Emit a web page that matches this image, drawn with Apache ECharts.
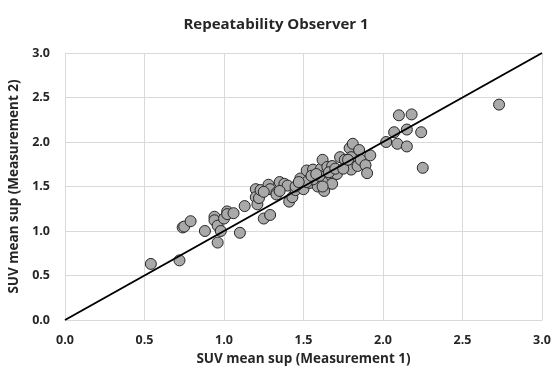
<!DOCTYPE html>
<html>
<head>
<meta charset="utf-8">
<script src="https://cdn.jsdelivr.net/npm/echarts@6/dist/echarts.min.js"></script>
<style>
  html, body { margin: 0; padding: 0; background: #fff; }
  #chart { width: 552px; height: 373px; }
</style>
</head>
<body>
<div id="chart"></div>
<script>
const measurement1 = [
  0.54, 0.72, 0.74, 0.75, 0.79, 0.88, 0.94, 0.94, 0.96, 0.96, 0.98, 1.00, 1.02, 1.02, 1.06, 1.10,
  1.13, 1.20, 1.20, 1.21, 1.22, 1.23, 1.25, 1.29, 1.28, 1.29, 1.33, 1.33, 1.35, 1.38, 1.40, 1.41,
  1.43, 1.45, 1.48, 1.50, 1.52, 1.54, 1.56, 1.57, 1.59, 1.61, 1.62, 1.63, 1.64, 1.65, 1.67, 1.68,
  1.68, 1.71, 1.73, 1.76, 1.79, 1.81, 1.80, 1.80, 1.84, 1.85, 1.86, 1.89, 1.90, 1.92, 2.02, 2.07,
  2.09, 2.10, 2.15, 2.15, 2.18, 2.24, 2.25, 2.73,
  1.56, 1.60, 1.52, 1.66, 1.70, 1.75, 1.78, 1.62, 1.45, 1.35, 1.25, 1.55, 1.47, 1.58
];
const measurement2 = [
  0.63, 0.67, 1.04, 1.05, 1.11, 1.00, 1.16, 1.12, 1.06, 0.87, 1.00, 1.14, 1.22, 1.19, 1.20, 0.98,
  1.28, 1.47, 1.38, 1.30, 1.37, 1.46, 1.14, 1.18, 1.52, 1.47, 1.43, 1.41, 1.55, 1.53, 1.51, 1.33,
  1.38, 1.46, 1.59, 1.47, 1.68, 1.54, 1.69, 1.61, 1.50, 1.70, 1.80, 1.45, 1.57, 1.72, 1.63, 1.73,
  1.53, 1.64, 1.83, 1.80, 1.93, 1.98, 1.69, 1.83, 1.73, 1.91, 1.80, 1.74, 1.65, 1.85, 2.00, 2.11,
  1.98, 2.30, 1.95, 2.14, 2.31, 2.11, 1.71, 2.42,
  1.58, 1.62, 1.55, 1.66, 1.70, 1.70, 1.80, 1.50, 1.50, 1.45, 1.44, 1.62, 1.55, 1.64
];
const identityLine = [[0, 0], [3, 3]];
const tickLabels = ['0.0', '0.5', '1.0', '1.5', '2.0', '2.5', '3.0'];

const points = measurement1.map((v, i) => [v, measurement2[i]]);

const chart = echarts.init(document.getElementById('chart'));
const font = '"Open Sans", "Noto Sans", sans-serif';

const axisCommon = {
  type: 'value',
  min: 0,
  max: 3,
  interval: 0.5,
  nameLocation: 'middle',
  nameTextStyle: { fontFamily: font, fontWeight: 'bold', fontSize: 13.5, color: '#262626' },
  axisLine: { show: true, lineStyle: { color: '#d9d9d9' } },
  axisTick: { show: false },
  splitLine: { show: true, lineStyle: { color: '#d9d9d9', width: 1 } },
  axisLabel: {
    fontFamily: font, fontWeight: 'bold', fontSize: 12.5, color: '#262626',
    formatter: v => tickLabels[Math.round(v / 0.5)]
  }
};

const option = {
  animation: false,
  backgroundColor: '#fff',
  title: {
    text: 'Repeatability Observer 1',
    left: 'center',
    top: 12,
    textStyle: { fontFamily: font, fontWeight: 'bold', fontSize: 15, color: '#262626' }
  },
  grid: { left: 65, right: 10, top: 53, bottom: 53, outerBoundsMode: 'none' },
  xAxis: Object.assign({}, axisCommon, {
    name: 'SUV mean sup (Measurement 1)',
    nameGap: 31,
    axisLabel: Object.assign({}, axisCommon.axisLabel, { margin: 14 })
  }),
  yAxis: Object.assign({}, axisCommon, {
    name: 'SUV mean sup (Measurement 2)',
    nameGap: 42,
    axisLabel: Object.assign({}, axisCommon.axisLabel, { margin: 15 })
  }),
  series: [
    {
      type: 'scatter',
      data: points,
      symbol: 'circle',
      symbolSize: 11,
      itemStyle: { color: '#a9a9a9', borderColor: '#262626', borderWidth: 1, opacity: 1 },
      z: 2
    },
    {
      type: 'line',
      data: identityLine,
      symbol: 'none',
      lineStyle: { color: '#000', width: 2 },
      z: 3
    }
  ]
};

chart.setOption(option);
</script>
</body>
</html>
